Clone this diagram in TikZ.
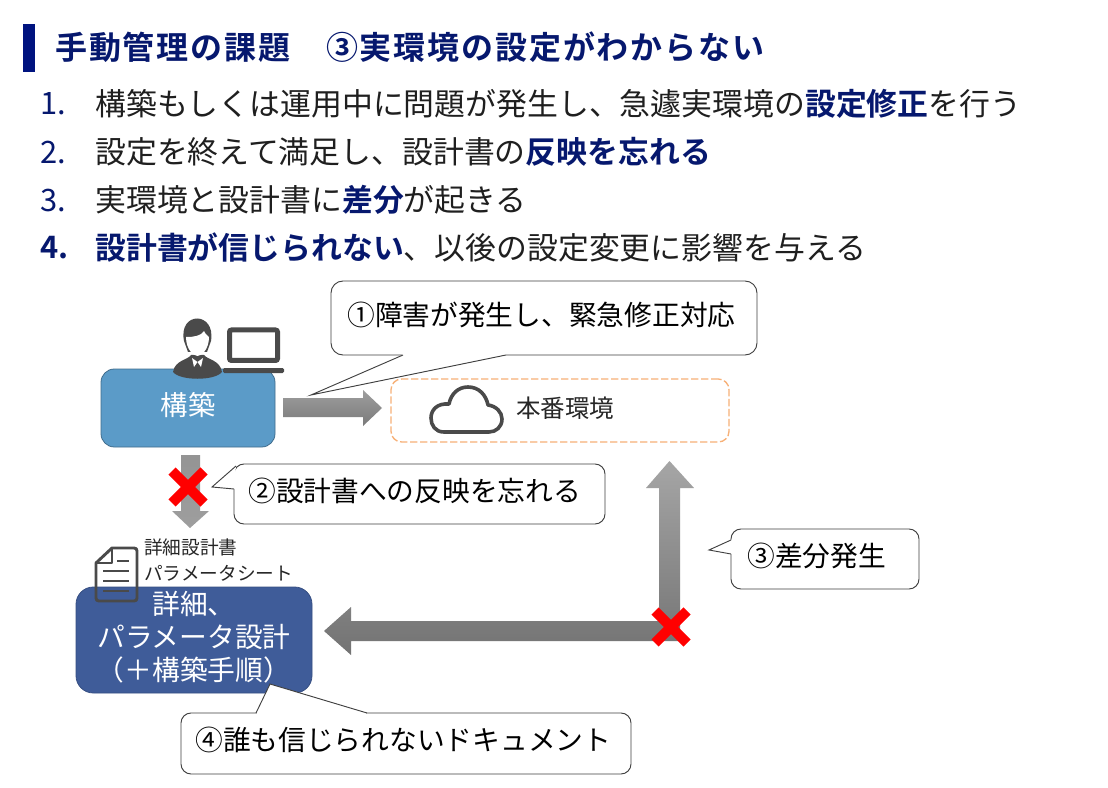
\documentclass[tikz,border=0pt]{standalone}
\usepackage{fontspec}
\setmainfont{Noto Sans CJK JP}
\newfontfamily\jpb{Noto Sans CJK JP Bold}
\newfontfamily\jpt[LetterSpace=5.8]{Noto Sans CJK JP Bold}
\definecolor{navy}{HTML}{06186E}
\definecolor{barblue}{HTML}{00137F}
\definecolor{bodytxt}{HTML}{1F1F1F}
\definecolor{boxblue}{HTML}{5B9BC8}
\definecolor{boxdark}{HTML}{3F5C99}
\definecolor{icon}{HTML}{4A4A4A}
\definecolor{dashorange}{HTML}{F7B077}
\newcommand{\navyb}[1]{{\jpb\color{navy}#1}}
\tikzset{
  listline/.style={anchor=west,inner sep=0pt,text=bodytxt,font=\fontsize{23.15pt}{26pt}\selectfont},
  listnum/.style={anchor=west,inner sep=0pt,text=navy,font=\fontsize{23.15pt}{26pt}\selectfont},
  speech/.style={draw=black!75,fill=white,line width=0.7pt,rounded corners=9pt},
  calltail/.style={draw=black!75,fill=white,line width=0.7pt},
  calltext/.style={anchor=west,inner sep=0pt,text=black,font=\fontsize{20.8pt}{24pt}\selectfont},
  crossmark/.style={draw=red,line width=7.5pt},
  iconline/.style={draw=icon,line width=2.2pt,line join=round},
  smalltxt/.style={anchor=west,inner sep=0pt,text=black!85,font=\fontsize{14pt}{16pt}\selectfont}
}
\begin{document}
\begin{tikzpicture}[x=0.75pt,y=-0.75pt]
\useasboundingbox (0,0) rectangle (1108,788);
\fill[white] (0,0) rectangle (1108,788);
% title
\fill[barblue] (23,24) rectangle (35,72);
\node[anchor=west,inner sep=0pt,text=navy,font=\fontsize{24pt}{26pt}\jpt] (title) at (55,47) {手動管理の課題　③実環境の設定がわからない};
% list
\node[listnum] (n1) at (40,104) {1.};
\node[listline] (l1) at (95,104) {構築もしくは運用中に問題が発生し、急遽実環境の\navyb{設定修正}を行う};
\node[listnum] (n2) at (40,152) {2.};
\node[listline] (l2) at (95,152) {設定を終えて満足し、設計書の\navyb{反映を忘れる}};
\node[listnum] (n3) at (40,200) {3.};
\node[listline] (l3) at (95,200) {実環境と設計書に\navyb{差分}が起きる};
\node[listnum,font=\fontsize{23.15pt}{26pt}\jpb] (n4) at (40,248) {4.};
\node[listline] (l4) at (95,248) {\navyb{設計書が信じられない}、以後の設定変更に影響を与える};
% block arrows
\shade[top color=black!38,bottom color=black!52] (283,398) -- (363,398) -- (363,390) -- (382,408) -- (363,426) -- (363,417) -- (283,417) -- cycle;
\shade[top color=black!42,bottom color=black!38] (181,455) -- (200,455) -- (200,511) -- (209,511) -- (190,528) -- (172,511) -- (181,511) -- cycle;
\shade[top color=black!35,bottom color=black!55] (669.5,461) -- (694,488) -- (680,488) -- (680,641) -- (351,641) -- (351,655) -- (324,631) -- (351,607) -- (351,621) -- (659,621) -- (659,488) -- (646,488) -- cycle;
% boxes
\node[draw=boxblue!70!black,fill=boxblue,rounded corners=10pt,minimum width=130.5pt,minimum height=58.5pt,inner sep=0pt,line width=0.6pt,text=white,font=\fontsize{20.5pt}{24pt}\selectfont] (build) at (188,408) {\raisebox{6pt}{構築}};
\node[draw=dashorange,dash pattern=on 5.5pt off 2pt,fill=white,rounded corners=8pt,minimum width=253.5pt,minimum height=47.25pt,inner sep=0pt,line width=1pt] (prod) at (560,410.5) {};
\node[anchor=west,inner sep=0pt,text=black!85,font=\fontsize{18.4pt}{22pt}\selectfont] (prodlabel) at (516,408) {本番環境};
\node[fill=boxdark,draw=boxdark!85!black,rounded corners=13pt,minimum width=177pt,minimum height=79.5pt,inner sep=0pt,line width=0.6pt] (design) at (194,640) {};
\node[inner sep=0pt,text=white,align=center,font=\fontsize{20.8pt}{24.75pt}\selectfont] (designlabel) at (194,637) {詳細、\\パラメータ設計\\（＋構築手順）};
% cloud
\draw[draw=icon,line width=2.7pt,line join=round,fill=white] (444,432) .. controls (435,432) and (431,425) .. (431,418) .. controls (431,410) and (437,403) .. (449,404) .. controls (451,394) and (458,387) .. (468,387) .. controls (479,387) and (486,395) .. (488,405) .. controls (496,406) and (502,412) .. (502,419) .. controls (502,427) and (496,432) .. (489,432) -- cycle;
% person
\fill[icon] (173,372) .. controls (175,360) and (188,360) .. (191,355) -- (204,355) .. controls (208,360) and (220,360) .. (222,372) .. controls (215,381) and (180,381) .. (173,372) -- cycle;
\fill[icon] (184,341) .. controls (178,311) and (216,311) .. (211,341) -- (207,352) -- (188,352) -- cycle;
\fill[white] (186,337) .. controls (194,337) and (201,336) .. (204,331) .. controls (206,335) and (208,336) .. (209,337) .. controls (209,350) and (201,356) .. (197.5,356) .. controls (194,356) and (186,350) .. (186,337) -- cycle;
\fill[white] (192,358) -- (197.5,362) -- (194,367) -- cycle;
\fill[white] (203,358) -- (197.5,362) -- (201,367) -- cycle;
% laptop
\draw[draw=icon,line width=3.75pt,rounded corners=1.5pt] (229.5,330) rectangle (277.5,360.5);
\fill[icon,rounded corners=1pt] (223,368) rectangle (284,373);
% doc icon
\draw[iconline] (112,548) -- (134,548) .. controls (136,548) and (137,549) .. (137,551) -- (137,598) .. controls (137,600) and (136,601) .. (134,601) -- (99,601) .. controls (97,601) and (96,600) .. (96,598) -- (96,563) -- cycle;
\draw[iconline] (96,563) -- (112,563) -- (112,548);
\draw[draw=icon,line width=1.5pt] (117,561) -- (129,561) (103,571) -- (129,571) (103,581) -- (129,581) (103,591) -- (129,591);
\node[smalltxt] (doc1) at (144,547) {詳細設計書};
\node[smalltxt] (doc2) at (144,573) {パラメータシート};
% callouts
\draw[speech] (331,355) rectangle (757,281);
\fill[white] (402,354) rectangle (506,356);
\draw[calltail] (403,355) -- (311,395) -- (506,355);
\node[calltext] (c1) at (347,315) {①障害が発生し、緊急修正対応};
\draw[speech,rounded corners=7.5pt] (234,524) rectangle (605,464);
\fill[white] (233,469) rectangle (235,489);
\draw[calltail] (236,466) -- (212,487) -- (234,489);
\node[calltext] (c2) at (248,491) {②設計書への反映を忘れる};
\draw[speech,rounded corners=7.5pt] (731,589) rectangle (919,529);
\fill[white] (730,540) rectangle (732,554);
\draw[calltail] (731,540) -- (709,550) -- (731,554);
\node[calltext] (c3) at (747,556) {③差分発生};
\draw[speech,rounded corners=7.5pt] (181,774) rectangle (631,713);
\fill[white] (257,712) rectangle (366,714);
\draw[calltail] (256,713) -- (270,684) -- (367,713);
\node[calltext] (c4) at (195,740) {④誰も信じられないドキュメント};
% red crosses
\draw[crossmark] (172,471) -- (204,503) (204,471) -- (172,503);
\draw[crossmark] (655,611) -- (687,643) (687,611) -- (655,643);
\end{tikzpicture}
\end{document}
